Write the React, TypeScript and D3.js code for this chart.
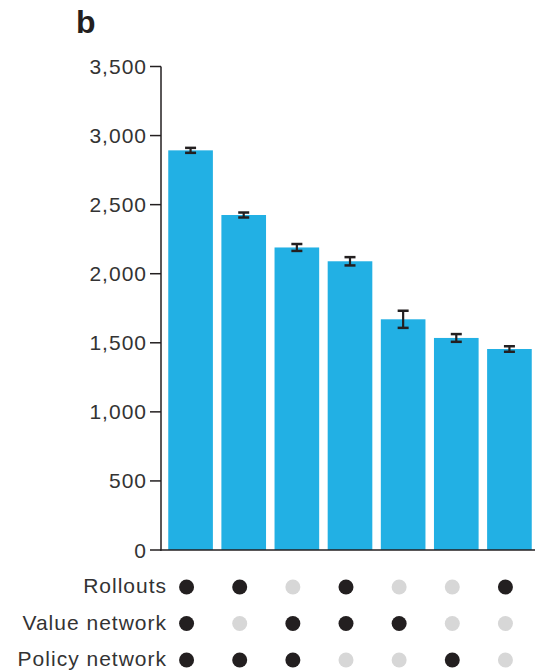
import React from "react";
import * as d3 from "d3";

const conditions = ["c1", "c2", "c3", "c4", "c5", "c6", "c7"];
const eloValues = [2893, 2425, 2190, 2090, 1670, 1535, 1455];
const eloErrors = [18, 18, 25, 30, 62, 28, 20];
const yTicks = [0, 500, 1000, 1500, 2000, 2500, 3000, 3500];
const rowLabels = ["Rollouts", "Value network", "Policy network"];
const rollouts = [1, 1, 0, 1, 0, 0, 1];
const valueNet = [1, 0, 1, 1, 1, 0, 0];
const policyNet = [1, 1, 1, 0, 0, 1, 0];

const W = 535;
const H = 672;
const FONT = "'Liberation Sans', Arial, Helvetica, sans-serif";
const DARK = "#231f20";
const TEXT = "#333333";
const BLUE = "#22b0e4";
const GREY = "#d7d7d7";

export default function App() {
  const y = d3.scaleLinear().domain([0, 3500]).range([550, 66.5]);
  const x = d3
    .scaleBand<string>()
    .domain(conditions)
    .range([164, 536])
    .paddingInner(0.16)
    .paddingOuter(0.08);
  const rowY = d3.scalePoint<string>().domain(rowLabels).range([587, 660]);
  const matrix = [rollouts, valueNet, policyNet];
  const axisX = 161;
  const bw = x.bandwidth();

  return (
    <div style={{ position: "absolute", left: 0, top: 0 }}>
      <svg width={W} height={H} style={{ display: "block" }}>
        <rect width={W} height={H} fill="#ffffff" />
        <text x={76} y={33} fontFamily={FONT} fontWeight="bold" fontSize={32} fill={DARK}>
          b
        </text>
        {conditions.map((c, i) => {
          const cx = (x(c) as number) + bw / 2;
          const top = y(eloValues[i] + eloErrors[i]);
          const bot = y(eloValues[i] - eloErrors[i]);
          return (
            <g key={c}>
              <rect x={x(c)} y={y(eloValues[i])} width={bw} height={y(0) - y(eloValues[i])} fill={BLUE} />
              <line x1={cx} x2={cx} y1={top} y2={bot} stroke={DARK} strokeWidth={2.2} />
              <line x1={cx - 5.5} x2={cx + 5.5} y1={top} y2={top} stroke={DARK} strokeWidth={2.5} />
              <line x1={cx - 5.5} x2={cx + 5.5} y1={bot} y2={bot} stroke={DARK} strokeWidth={2.5} />
            </g>
          );
        })}
        <line x1={axisX} x2={axisX} y1={y(3500)} y2={y(0) + 0.75} stroke={DARK} strokeWidth={1.5} />
        <line x1={axisX - 0.75} x2={535} y1={y(0)} y2={y(0)} stroke={DARK} strokeWidth={1.5} />
        {yTicks.map((t) => (
          <g key={t}>
            <line x1={150} x2={axisX} y1={y(t)} y2={y(t)} stroke={DARK} strokeWidth={1.5} />
            <text
              x={147}
              y={y(t)}
              dy="0.36em"
              textAnchor="end"
              fontFamily={FONT}
              fontSize={21}
              letterSpacing={1}
              fill={TEXT}
            >
              {d3.format(",")(t)}
            </text>
          </g>
        ))}
        {rowLabels.map((r, ri) => (
          <g key={r}>
            <text
              x={167}
              y={rowY(r)}
              dy="0.3em"
              textAnchor="end"
              fontFamily={FONT}
              fontSize={21}
              letterSpacing={1}
              fill={TEXT}
            >
              {r}
            </text>
            {conditions.map((c, i) => (
              <circle
                key={c}
                cx={(x(c) as number) + bw / 2 - 4}
                cy={rowY(r)}
                r={7.5}
                fill={matrix[ri][i] ? DARK : GREY}
              />
            ))}
          </g>
        ))}
      </svg>
    </div>
  );
}
